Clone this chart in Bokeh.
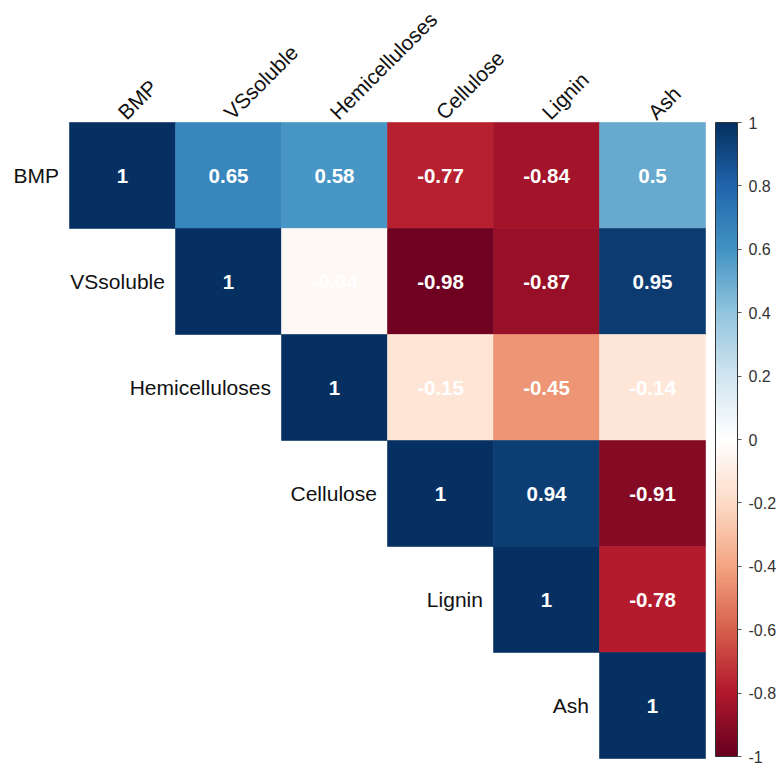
import numpy as np
from bokeh.plotting import figure
from bokeh.models import (ColumnDataSource, LinearColorMapper, ColorBar,
                          FixedTicker, Range1d)
from bokeh.core.properties import value
from bokeh.embed import file_html
from bokeh.resources import INLINE

# Variables of the correlation matrix (upper triangle, row by row)
variables = ["BMP", "VSsoluble", "Hemicelluloses", "Cellulose", "Lignin", "Ash"]
bmp_row = [1, 0.65, 0.58, -0.77, -0.84, 0.5]
vssoluble_row = [1, -0.04, -0.98, -0.87, 0.95]
hemicelluloses_row = [1, -0.15, -0.45, -0.14]
cellulose_row = [1, 0.94, -0.91]
lignin_row = [1, -0.78]
ash_row = [1]
rows = [bmp_row, vssoluble_row, hemicelluloses_row, cellulose_row, lignin_row, ash_row]

colorbar_ticks = [-1, -0.8, -0.6, -0.4, -0.2, 0, 0.2, 0.4, 0.6, 0.8, 1]

# RdBu diverging palette (red = -1, blue = +1), interpolated to 200 steps
anchors = ["#67001F", "#B2182B", "#D6604D", "#F4A582", "#FDDBC7", "#FFFFFF",
           "#D1E5F0", "#92C5DE", "#4393C3", "#2166AC", "#053061"]
anchor_rgb = np.array([[int(c[i:i + 2], 16) for i in (1, 3, 5)] for c in anchors], float)
pos = np.linspace(0, 1, len(anchors))
t = np.linspace(0, 1, 200)
palette = ["#%02x%02x%02x" % tuple(int(round(np.interp(tt, pos, anchor_rgb[:, k]))) for k in range(3))
           for tt in t]
mapper = LinearColorMapper(palette=palette, low=-1, high=1)

# Cell table built from the rows
xs, ys, vals, labels = [], [], [], []
for i, row in enumerate(rows):
    for k, v in enumerate(row):
        j = i + k
        xs.append(j + 0.5)
        ys.append(i + 0.5)
        vals.append(v)
        labels.append(f"{v:g}")
cells = ColumnDataSource(dict(x=xs, y=ys, v=vals, label=labels))

n = len(variables)
W, H = 781, 765
CELL = 106.0
LEFT, TOP = 69.0, 122.0

p = figure(width=W, height=H, output_backend="svg", toolbar_location=None,
           x_range=Range1d(-LEFT / CELL, (W - LEFT) / CELL),
           y_range=Range1d((H - TOP) / CELL, -TOP / CELL),
           x_axis_type=None, y_axis_type=None,
           min_border=0, min_border_left=0, min_border_right=0,
           min_border_top=0, min_border_bottom=0)
p.outline_line_color = None
p.background_fill_color = "white"
p.border_fill_color = "white"
p.grid.visible = False

cell_color = {"field": "v", "transform": mapper}
p.rect(x="x", y="y", width=1, height=1, source=cells,
       fill_color=cell_color, line_color=cell_color, line_width=0.6)

p.text(x="x", y="y", text="label", source=cells,
       text_color="white", text_font=value("Liberation Sans"),
       text_font_style="bold", text_font_size="20.5px",
       text_align="center", text_baseline="middle")

# Row labels, right-aligned next to each diagonal cell
row_src = ColumnDataSource(dict(
    x=[i - 0.1 for i in range(n)],
    y=[i + 0.5 for i in range(n)],
    t=variables))
p.text(x="x", y="y", text="t", source=row_src,
       text_color="#111111", text_font=value("Liberation Sans"),
       text_font_size="21px", text_align="right", text_baseline="middle")

# Column labels, rotated 45 degrees above the grid
col_src = ColumnDataSource(dict(
    x=[j + 0.5 - 0.01 for j in range(n)],
    y=[-0.065] * n,
    t=variables))
p.text(x="x", y="y", text="t", source=col_src, angle=np.pi / 4,
       text_color="#111111", text_font=value("Liberation Sans"),
       text_font_size="21px", text_align="left", text_baseline="alphabetic")

color_bar = ColorBar(color_mapper=mapper,
                     ticker=FixedTicker(ticks=colorbar_ticks),
                     major_label_overrides={tk: f"{tk:g}" for tk in colorbar_ticks},
                     width=22, height=634, location=(715, 9),
                     padding=0, margin=0,
                     bar_line_color="#333333", bar_line_width=1,
                     major_tick_in=0, major_tick_out=4,
                     major_tick_line_color="#555555",
                     minor_tick_line_color=None,
                     label_standoff=7,
                     major_label_text_font="Liberation Sans",
                     major_label_text_font_size="16px",
                     major_label_text_color="#333333",
                     background_fill_alpha=0, border_line_color=None)
p.add_layout(color_bar)

open("out.html", "w").write(file_html(p, INLINE))
